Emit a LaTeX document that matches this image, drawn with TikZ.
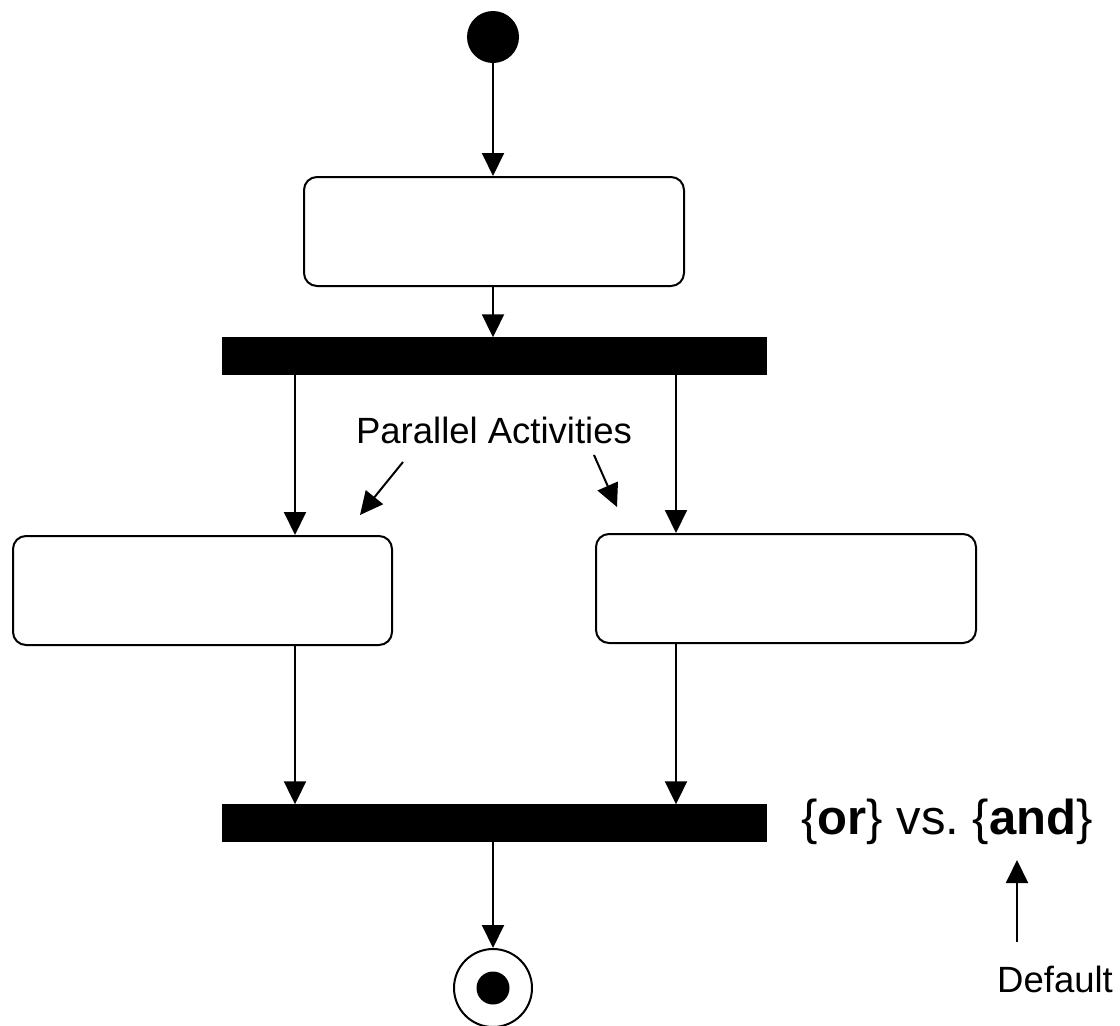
\documentclass[tikz,border=0pt]{standalone}
\usepackage{fontspec}
\setmainfont{Liberation Sans}
\frenchspacing
\usetikzlibrary{arrows.meta,calc}
\tikzset{
	flow/.style={line width=2pt, -{Triangle[length=23pt,width=22pt]}},
	actbox/.style={draw, line width=2pt, rounded corners=13pt, minimum width=380pt, minimum height=109pt, inner sep=0pt},
	syncbar/.style={fill=black, draw=black, minimum width=544pt, minimum height=37pt, inner sep=0pt},
	note/.style={font=\fontsize{36.5}{40}\selectfont, inner sep=0pt}
}

\begin{document}
\begin{tikzpicture}[x=1pt, y=-1pt]
			%%%%% START %%%%%
			\useasboundingbox (0, 0) rectangle (1120, 1026);
			
			\node[circle, fill=black, minimum size=52pt, inner sep=0pt] (start) at (493, 37) {};
			\node[actbox] (prep) at (494, 231.5) {};
			\node[syncbar] (fork) at (494, 356) {};
			
			\node[actbox, minimum width=379pt] (left) at (202.5, 590.5) {};
			\node[actbox] (right) at (786, 588.5) {};
			
			\node[syncbar] (join) at (494.5, 823) {};
			
			\node[circle, draw, line width=2pt, minimum size=78pt, inner sep=0pt] (stop) at (493, 988) {};
			\node[circle, fill=black, minimum size=33pt, inner sep=0pt] (stopdot) at (stop.center) {};
			
			\coordinate (xl) at (295, 0);
			\coordinate (xr) at (676, 0);
			
			\draw[flow] (start.south) -- (prep.north -| start.south);
			\draw[flow] (prep.south -| start.south) -- (fork.north -| start.south);
			\draw[flow] (fork.south -| xl) -- (left.north -| xl);
			\draw[flow] (fork.south -| xr) -- (right.north -| xr);
			\draw[flow] (left.south -| xl) -- (join.north -| xl);
			\draw[flow] (right.south -| xr) -- (join.north -| xr);
			\draw[flow] (join.south -| stop.north) -- (stop.north);
			
			\node[note, anchor=base] (parallel) at (494, 443) {Parallel Activities};
			\coordinate (pl) at (403, 462);
			\coordinate (pr) at (594, 455);
			\draw[flow] (pl) -- (360, 515);
			\draw[flow] (pr) -- (617, 507);
			
			\node[note, font=\fontsize{49}{54}\selectfont, anchor=base west] (orand) at (801, 834) {\{\textbf{or}\} vs. \{\textbf{and}\}};
			\node[note, anchor=base west] (default) at (997, 992) {Default};
			\coordinate (dtail) at (1017, 942);
			\draw[flow] (dtail) -- (1017, 860);
			
			%%%%% END %%%%%
\end{tikzpicture}
\end{document}
